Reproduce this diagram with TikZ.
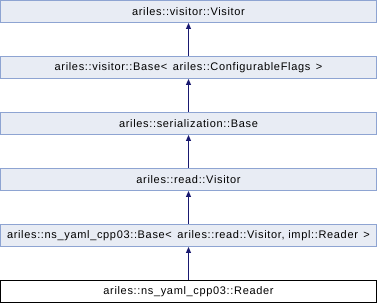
\documentclass[tikz,border=0pt]{standalone}
\usepackage{fontspec}
\setmainfont{Liberation Sans}
\newfontfamily\dxfont[LetterSpace=6]{Liberation Sans}
\usetikzlibrary{arrows.meta}
\definecolor{boxfill}{HTML}{E8ECF4}
\definecolor{boxline}{HTML}{8EA4D2}
\definecolor{inhline}{HTML}{191970}

\begin{document}
\begin{tikzpicture}[x=1pt,y=-1pt,
  cls/.style={draw=boxline,fill=boxfill,line width=1pt,minimum width=376pt,
    minimum height=22pt,inner sep=0pt,font=\dxfont\fontsize{11}{13}\selectfont},
  cur/.style={cls,draw=black,fill=white},
  inh/.style={draw=inhline,line width=1pt,-{Triangle[width=5pt,length=6pt]}}]
  \useasboundingbox (0,0) rectangle (378,304);
  \node[cls](visitor) at (188.5,11.5){ariles::visitor::Visitor};
  \node[cls](vbase) at (188.5,67.5){ariles::visitor::Base<\, ariles::ConfigurableFlags\, >};
  \node[cls](serial) at (188.5,123.5){ariles::serialization::Base};
  \node[cls](readv) at (188.5,179.5){ariles::read::Visitor};
  \node[cls](ybase) at (188.5,235.5){ariles::ns\_yaml\_cpp03::Base<\, ariles::read::Visitor, impl::Reader\, >};
  \node[cur](reader) at (188.5,291.5){ariles::ns\_yaml\_cpp03::Reader};
  \draw[inh](vbase)--(visitor);
  \draw[inh](serial)--(vbase);
  \draw[inh](readv)--(serial);
  \draw[inh](ybase)--(readv);
  \draw[inh](reader)--(ybase);
\end{tikzpicture}
\end{document}
